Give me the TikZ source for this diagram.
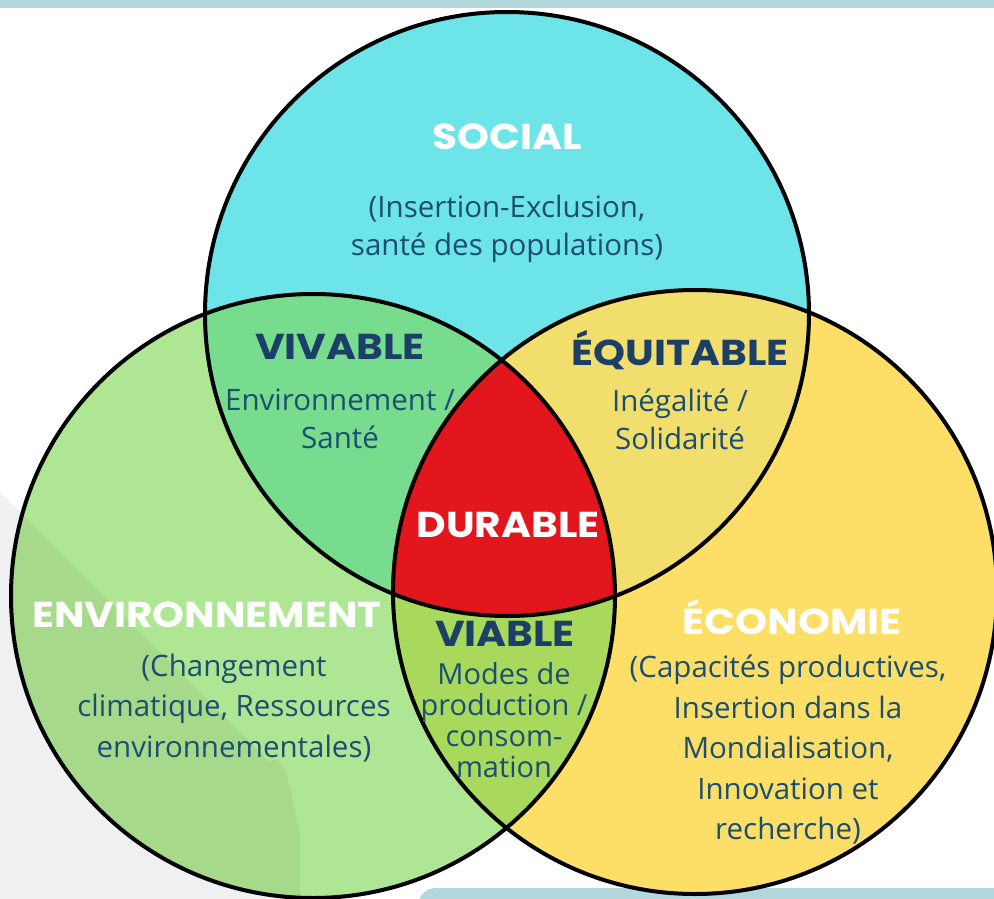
\documentclass[tikz,border=0pt]{standalone}
\usepackage{fontspec}
\setmainfont{Open Sans}
\newfontfamily\titlefont{Poppins}[FakeStretch=1.13]
\definecolor{topbar}{HTML}{B2D8DC}
\definecolor{greybg}{HTML}{EEF0F2}
\definecolor{socialc}{HTML}{6CE4E8}
\definecolor{envc}{HTML}{AEE693}
\definecolor{envdark}{HTML}{A6DA8A}
\definecolor{ecoc}{HTML}{FDDE67}
\definecolor{vivc}{HTML}{77DC8E}
\definecolor{equc}{HTML}{F2DE6C}
\definecolor{viac}{HTML}{A8D95C}
\definecolor{durc}{HTML}{E3161E}
\definecolor{navy}{HTML}{1B3F66}
\definecolor{bodyc}{HTML}{1C4E72}
\tikzset{
  ttl/.style={font=\titlefont\bfseries\fontsize{36}{40}\selectfont, inner sep=0pt},
  ttlw/.style={ttl, text=white},
  ttln/.style={ttl, text=navy},
  body/.style={font=\fontsize{29.5}{38}\selectfont, text=bodyc, align=center, inner sep=0pt},
  bodywide/.style={body, font=\fontsize{29.5}{40.5}\selectfont},
  ring/.style={draw=black, line width=4pt}
}
\begin{document}
\begin{tikzpicture}[x=1pt,y=-1pt]
\useasboundingbox (0,0) rectangle (994,899);
\fill[white] (0,0) rectangle (994,899);
\fill[topbar] (0,0) rectangle (994,8);
\fill[greybg] (0,492) -- (270,762) to[out=45,in=-90] (300,830) -- (300,899) -- (0,899) -- cycle;
\fill[topbar, rounded corners=18pt] (418,888) rectangle (1030,930);
\coordinate (S) at (507,314);
\coordinate (E) at (313,596);
\coordinate (C) at (695,592);
\def\R{302}
% base fills
\fill[socialc] (S) circle (\R);
\fill[envc] (E) circle (\R);
\fill[ecoc] (C) circle (\R);
\begin{scope}
  \clip (E) circle (\R);
  \fill[envdark] (0,492) -- (270,762) to[out=45,in=-90] (300,830) -- (300,899) -- (0,899) -- cycle;
\end{scope}
% pairwise
\begin{scope}\clip (S) circle (\R); \fill[vivc] (E) circle (\R); \end{scope}
\begin{scope}\clip (S) circle (\R); \fill[equc] (C) circle (\R); \end{scope}
\begin{scope}\clip (E) circle (\R); \fill[viac] (C) circle (\R); \end{scope}
\begin{scope}\clip (S) circle (\R); \clip (E) circle (\R); \fill[durc] (C) circle (\R); \end{scope}
% outlines
\draw[ring] (S) circle (\R);
\draw[ring] (E) circle (\R);
\draw[ring] (C) circle (\R);
% texts
\node[ttlw] (social) at (507,137) {SOCIAL};
\node[body] (socialtxt) at (507,229) {(Insertion-Exclusion,\\santé des populations)};
\node[ttln] (vivable) at (340,347) {VIVABLE};
\node[body] (vivtxt) at (340,419) {Environnement /\\Santé};
\node[ttln] (equitable) at (680,350) {ÉQUITABLE};
\node[body] (equtxt) at (680,419) {Inégalité /\\Solidarité};
\node[ttlw] (durable) at (508,525) {DURABLE};
\node[ttlw] (environ) at (207,615) {ENVIRONNEMENT};
\node[bodywide] (envtxt) at (234,708) {(Changement\\climatique, Ressources\\environnementales)};
\node[ttln] (viable) at (505,634) {VIABLE};
\node[body, font=\fontsize{29}{31}\selectfont] (viatxt) at (504,720) {Modes de\\production /\\consom-\\mation};
\node[ttlw] (economie) at (792,617) {ÉCONOMIE};
\node[bodywide] (ecotxt) at (788,750) {(Capacités productives,\\Insertion dans la\\Mondialisation,\\Innovation et\\recherche)};
\end{tikzpicture}
\end{document}
